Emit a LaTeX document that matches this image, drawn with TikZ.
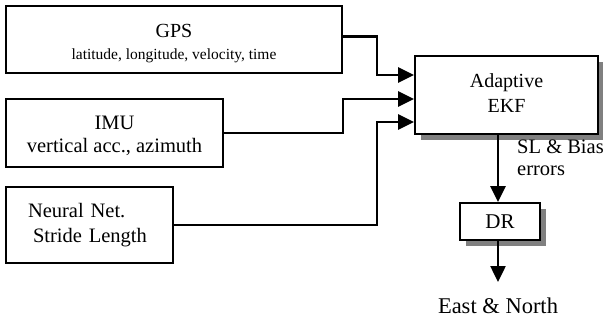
\documentclass[tikz,border=0pt]{standalone}
\usepackage{fontspec}
\setmainfont{Liberation Serif}
\usetikzlibrary{arrows.meta,shadows}
\begin{document}
\begin{tikzpicture}[x=1pt,y=-1pt,
  box/.style={draw, line width=1.9pt, fill=white, inner sep=0pt, align=center,
    font=\fontsize{20.5}{23}\selectfont},
  shbox/.style={box, drop shadow={shadow xshift=6pt, shadow yshift=-6pt, fill=black!50, opacity=1}},
  arr/.style={line width=2.5pt, -{Triangle[length=16pt,width=15pt]}},
  lbl/.style={inner sep=0pt, font=\fontsize{20.5}{22}\selectfont}]
\useasboundingbox (0,0) rectangle (603,325);

\node[box, minimum width=336pt, minimum height=67pt, font=\fontsize{15.5}{22}\selectfont]
  (gps) at (174,39.5) {\rule{0pt}{22pt}{\fontsize{20}{22}\selectfont GPS}\\latitude, longitude, velocity, time};
\node[box, minimum width=217pt, minimum height=68pt]
  (imu) at (114.5,133) {\rule{0pt}{20pt}IMU\\vertical acc., azimuth};
\node[box, minimum width=167pt, minimum height=76pt, align=left, text width=123pt,
  inner xsep=22pt, font=\fontsize{20.5}{25}\selectfont]
  (nn) at (89.5,225) {Neural Net.\\\hspace*{5pt}Stride Length};
\node[shbox, minimum width=183pt, minimum height=78pt, font=\fontsize{20}{25}\selectfont]
  (ekf) at (506.5,95) {Adaptive\\\rule[-4pt]{0pt}{4pt}EKF};
\node[shbox, minimum width=80pt, minimum height=37pt, font=\fontsize{21}{25}\selectfont]
  (dr) at (500,221.5) {DR};

\coordinate (out) at (498,282);
\node[lbl, anchor=north west, align=left] (sl) at (517,139.5) {SL \& Bias\\errors};
\node[lbl, anchor=base, font=\fontsize{22.5}{25}\selectfont] (en) at (498,313) {East \& North};

\draw[arr] ([yshift=3pt]gps.east) -- ++(34,0) |- ([yshift=20pt]ekf.west);
\draw[arr] (imu.east) -- ++(119,0) |- ([yshift=-4pt]ekf.west);
\draw[arr] (nn.east) -- ++(203,0) |- ([yshift=-27pt]ekf.west);
\draw[arr] ([xshift=-2pt]dr.north |- ekf.south) -- ([xshift=-2pt]dr.north);
\draw[arr] ([xshift=-2pt]dr.south) -- (out);
\end{tikzpicture}
\end{document}
